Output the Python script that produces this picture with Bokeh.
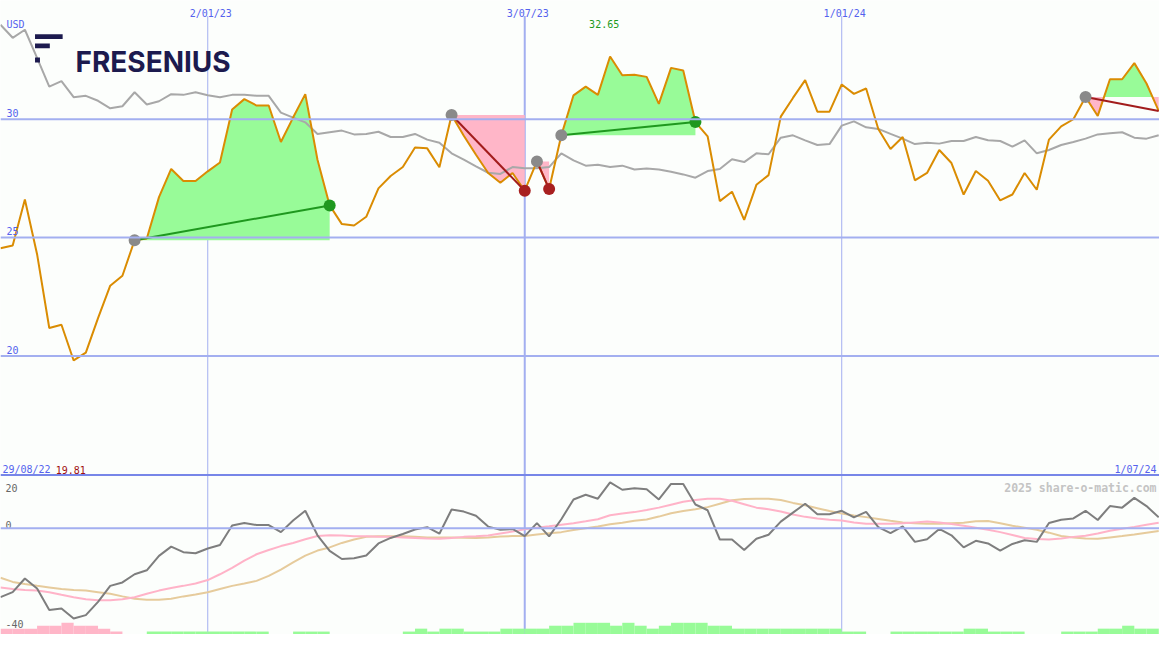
from bokeh.plotting import figure
from bokeh.models import Range1d, Span, BoxAnnotation
from bokeh.embed import file_html
from bokeh.resources import INLINE
from bokeh.core.properties import value

# ---------------- data (weekly, index 0 = first week shown) ----------------
DATE_LABELS = ["2/01/23", "3/07/23", "1/01/24"]
DATE_LABEL_IDX = [17, 43, 69]
START_LABEL = "29/08/22"
END_LABEL = "1/07/24"
PRICE_TICKS = [30, 25, 20]
OSC_TICKS = [20, 0, -40]

price = [24.55, 24.67, 26.61, 24.3, 21.18, 21.32, 19.81, 20.14, 21.6, 22.97,
         23.39, 24.89, 24.96, 26.71, 27.9, 27.39, 27.39, 27.8, 28.17, 30.41,
         30.85, 30.58, 30.58, 29.04, 30.07, 31.06, 28.29, 26.36, 25.57, 25.51,
         25.88, 27.08, 27.6, 27.98, 28.81, 28.77, 27.97, 30.18, 29.3, 28.5,
         27.73, 27.32, 27.73, 26.98, 28.22, 27.05, 29.32, 31.01, 31.38, 31.03,
         32.65, 31.86, 31.88, 31.79, 30.65, 32.17, 32.06, 29.88, 29.28, 26.54,
         26.94, 25.75, 27.23, 27.64, 30.11, 30.9, 31.65, 30.32, 30.32, 31.47,
         31.07, 31.3, 29.59, 28.74, 29.25, 27.42, 27.73, 28.7, 28.15, 26.82,
         27.81, 27.4, 26.57, 26.82, 27.73, 27.02, 29.14, 29.7, 30.0, 30.94,
         30.14, 31.69, 31.69, 32.37, 31.51, 30.35]

bench = [33.99, 33.44, 33.78, 32.59, 31.38, 31.61, 30.93, 30.99, 30.78, 30.46,
         30.55, 31.14, 30.62, 30.76, 31.06, 31.03, 31.14, 31.01, 30.93, 31.03,
         31.03, 30.99, 30.99, 30.28, 30.07, 29.87, 29.38, 29.45, 29.52, 29.36,
         29.38, 29.47, 29.25, 29.25, 29.38, 29.14, 29.01, 28.56, 28.29, 28.01,
         27.74, 27.69, 27.98, 27.93, 27.93, 27.98, 28.56, 28.26, 28.04, 28.08,
         27.98, 28.04, 27.88, 27.92, 27.88, 27.78, 27.67, 27.53, 27.81, 27.9,
         28.31, 28.19, 28.56, 28.52, 29.22, 29.32, 29.11, 28.91, 28.95, 29.73,
         29.91, 29.66, 29.59, 29.38, 29.18, 28.95, 29.01, 28.97, 29.08, 29.08,
         29.25, 29.11, 29.08, 28.84, 29.11, 28.56, 28.7, 28.91, 29.04, 29.18,
         29.36, 29.41, 29.45, 29.22, 29.18, 29.32]

osc_main = [-26.2, -24.3, -19.1, -22.9, -31.1, -30.5, -34.3, -33.0, -28.0, -21.9,
            -20.6, -17.5, -16.0, -10.5, -7.0, -9.1, -9.5, -7.7, -6.4, 1.0,
            2.0, 1.2, 1.2, -1.5, 2.9, 6.6, -2.7, -8.6, -11.7, -11.4,
            -10.4, -5.8, -3.7, -2.2, -0.5, 0.4, -2.1, 7.1, 6.3, 4.7,
            0.6, -0.6, -0.3, -3.0, 1.9, -3.1, 3.4, 10.9, 12.7, 11.2,
            17.4, 14.6, 15.2, 14.8, 10.9, 16.8, 16.8, 9.0, 6.8, -4.3,
            -4.3, -8.3, -4.0, -2.5, 2.5, 5.9, 9.3, 5.3, 5.3, 6.6,
            4.1, 6.2, 0.4, -1.9, 0.7, -5.2, -4.2, -0.3, -2.7, -7.3,
            -4.8, -5.8, -8.5, -6.0, -4.6, -5.2, 2.0, 3.2, 3.7, 6.6,
            3.1, 8.4, 7.8, 11.5, 8.4, 4.1]

osc_fast = [-22.5, -23.1, -23.5, -23.7, -24.3, -25.3, -26.2, -27.0, -27.4, -27.4,
            -27.0, -26.2, -24.9, -23.7, -22.7, -21.9, -21.0, -19.7, -17.5, -15.1,
            -12.3, -9.9, -8.3, -6.8, -5.6, -4.2, -3.0, -2.7, -2.8, -3.1,
            -3.1, -3.3, -3.3, -3.5, -3.7, -3.9, -4.0, -3.7, -3.3, -3.1,
            -2.8, -2.0, -1.3, -0.4, 0.2, 0.7, 1.3, 1.9, 2.6, 3.4,
            4.9, 5.6, 6.1, 6.9, 7.8, 8.9, 10.0, 10.7, 11.2, 11.2,
            10.4, 9.1, 7.8, 7.2, 6.3, 5.2, 4.3, 3.7, 3.2, 2.9,
            2.2, 1.7, 1.7, 1.7, 1.9, 2.2, 2.5, 2.2, 1.6, 0.9,
            0.2, -0.6, -1.5, -2.6, -3.7, -4.1, -4.3, -3.9, -3.3, -2.9,
            -2.0, -1.0, -0.2, 0.5, 1.3, 2.1]

osc_slow = [-18.8, -20.4, -21.2, -21.9, -22.5, -23.1, -23.5, -23.7, -24.3, -24.9,
            -25.9, -26.8, -27.2, -27.2, -26.8, -25.9, -25.2, -24.3, -23.1, -21.9,
            -21.0, -20.0, -18.1, -15.7, -13.0, -10.4, -8.5, -7.3, -5.6, -4.3,
            -3.3, -3.1, -3.1, -3.1, -3.3, -3.5, -3.5, -3.5, -3.6, -3.7,
            -3.5, -3.2, -3.0, -3.0, -2.4, -1.9, -1.5, -0.7, 0.0, 0.6,
            1.5, 2.1, 2.8, 3.3, 4.4, 5.7, 6.5, 7.2, 8.0, 9.3,
            10.6, 11.1, 11.2, 11.2, 10.7, 9.6, 8.7, 7.6, 6.5, 5.6,
            4.8, 4.2, 3.5, 2.8, 2.2, 1.9, 1.7, 1.7, 1.9, 2.1,
            2.6, 2.7, 1.9, 0.9, 0.2, -0.6, -1.7, -3.0, -3.5, -3.9,
            -4.0, -3.5, -3.0, -2.4, -1.7, -1.1]

hist = [-2, -2, -2, -3, -3, -4, -3, -3, -2, -1, 0, 0,
        1, 1, 1, 1, 1, 1, 1, 1, 1, 1,
        0, 0,
        1, 1, 1,
        0, 0, 0, 0, 0, 0,
        1, 2, 1, 2, 2, 1, 1, 1, 2, 2, 2, 2,
        3, 3, 4, 4, 4, 3, 4, 3, 2, 3, 4, 4, 4, 3, 3,
        2, 2, 2, 2, 2, 2, 2, 2, 2,
        1, 1, 0, 0,
        1, 1, 1, 1, 1, 1,
        2, 2, 1, 1, 1, 0, 0, 0, 1, 1, 1, 2, 2, 3, 2, 2, 2]

trade_entry = [11, 37, 44, 46, 89]
trade_exit = [27, 43, 45, 57, 95]
trade_open = [False, False, False, False, True]

# ---------------- layout constants ----------------
W, H = 1159, 634
PX_X = 12.36                      # reference px per week
X_END = 1175 / PX_X
PX_Y = 24.27                      # reference px per USD
Y_TOP = 35.016
Y_BOT = Y_TOP - 650 / PX_Y
OSC_PX = 2.7
OSC_TOP = 541 / OSC_PX
OSC_BOT = -(650 - 541) / OSC_PX
HIST_TOP = 650 / 3.0


def xd(px):
    return px / PX_X


def yd(px):
    return Y_TOP - px / PX_Y


def yo(px):
    return (541 - px) / OSC_PX


BG = "#fcfefc"
BLUE_TXT = "#5462ee"
GRID = "#a3aff0"
SEP = "#7786e8"
ORANGE = "#da8c02"
GRAY = "#a8a8a8"
GFILL = "#98fb98"
PFILL = "#ffb6c8"
GLINE = "#1f981f"
RLINE = "#a21c1c"
MONO = value("DejaVu Sans Mono")

p = figure(width=W, height=H, output_backend="svg", toolbar_location=None,
           x_axis_location=None, y_axis_location=None, min_border=0,
           x_range=Range1d(0, X_END), y_range=Range1d(Y_BOT, Y_TOP),
           background_fill_color=BG, border_fill_color=BG,
           outline_line_color=None)
p.grid.visible = False
p.extra_y_ranges = {"osc": Range1d(OSC_BOT, OSC_TOP),
                    "hist": Range1d(0, HIST_TOP)}

idx = list(range(len(price)))

# ---------------- grid ----------------
for t in PRICE_TICKS:
    p.add_layout(Span(location=t, dimension="width", line_color=GRID, line_width=2))
p.add_layout(Span(location=0, dimension="width", line_color=GRID, line_width=2,
                  y_range_name="osc"))
vw = [2 if d == "3/07/23" else 1 for d in DATE_LABELS]
p.segment(x0=DATE_LABEL_IDX, x1=DATE_LABEL_IDX, y0=[Y_BOT] * 3, y1=[yd(16)] * 3,
          line_color=GRID, line_width=vw)
p.add_layout(Span(location=yd(486.5), dimension="width", line_color=SEP, line_width=2))

# ---------------- histogram (bottom bars) ----------------
hx = [i for i, h in enumerate(hist) if h != 0]
p.quad(left=hx, right=[i + 1 for i in hx], bottom=0,
       top=[abs(hist[i]) for i in hx],
       fill_color=[GFILL if hist[i] > 0 else PFILL for i in hx],
       line_color=None, y_range_name="hist")

# ---------------- trade fills ----------------
for a, b in zip(trade_entry, trade_exit):
    E = price[a]
    xs, ys = [a], [price[a]]
    for i in range(a, b):
        p0, p1 = price[i], price[i + 1]
        if (p0 - E) * (p1 - E) < 0:
            t = (E - p0) / (p1 - p0)
            xs.append(i + t)
            ys.append(E)
        xs.append(i + 1)
        ys.append(p1)
    p.varea(x=xs, y1=[E] * len(xs), y2=[max(y, E) for y in ys], fill_color=GFILL)
    p.varea(x=xs, y1=[min(y, E) for y in ys], y2=[E] * len(xs), fill_color=PFILL)

# ---------------- lines ----------------
p.line(idx, bench, line_color=GRAY, line_width=2)
p.line(idx, price, line_color=ORANGE, line_width=2)

p.line(idx, osc_slow, line_color="#e6cb9c", line_width=2, y_range_name="osc")
p.line(idx, osc_fast, line_color="#ffb3c8", line_width=2, y_range_name="osc")
p.line(idx, osc_main, line_color="#7e7e7e", line_width=2, y_range_name="osc")

# ---------------- trades ----------------
for a, b, op in zip(trade_entry, trade_exit, trade_open):
    E = price[a]
    win = price[b] > E
    col = GLINE if win else RLINE
    p.line([a, b], [E, price[b]], line_color=col, line_width=2)
    if not op:
        p.scatter([b], [price[b]], size=12, fill_color=col if win else "#a82020",
                  line_color=None)
p.scatter(trade_entry, [price[a] for a in trade_entry], size=12,
          fill_color="#8a8a8a", line_color=None)

# ---------------- texts ----------------
p.text(x=[xd(6)], y=[yd(25)], text=["USD"], text_font=MONO, text_font_size="10px",
       text_color=BLUE_TXT, text_baseline="alphabetic")
p.text(x=[xd(6)] * 3, y=[t + 0.1 for t in PRICE_TICKS], text=[str(t) for t in PRICE_TICKS],
       text_font=MONO, text_font_size="10px", text_color=BLUE_TXT,
       text_baseline="bottom")
p.text(x=[i + xd(3) for i in DATE_LABEL_IDX], y=[yd(13)] * 3, text=DATE_LABELS,
       text_font=MONO, text_font_size="10px", text_color=BLUE_TXT,
       text_align="center", text_baseline="alphabetic")
imax = price.index(max(price))
p.text(x=[imax - xd(6)], y=[yd(24)], text=[f"{max(price):.2f}"], text_font=MONO,
       text_font_size="10px", text_color="#1d9a1d", text_align="center",
       text_baseline="alphabetic")
p.text(x=[xd(2)], y=[yd(481)], text=[START_LABEL], text_font=MONO,
       text_font_size="10px", text_color=BLUE_TXT, text_baseline="alphabetic")
p.text(x=[xd(56)], y=[yd(481)], text=[f"{min(price):.2f}"], text_font=MONO,
       text_font_size="10px", text_color="#a01010", text_baseline="alphabetic")
p.text(x=[X_END - xd(3)], y=[yd(481)], text=[END_LABEL], text_font=MONO,
       text_font_size="10px", text_color=BLUE_TXT, text_align="right",
       text_baseline="alphabetic")
p.text(x=[X_END - xd(3)], y=[yo(500)], text=["2025 share-o-matic.com"],
       text_font=MONO, text_font_size="11.5px", text_font_style="bold",
       text_color="#c4c4c4", text_align="right", text_baseline="alphabetic",
       y_range_name="osc")
p.text(x=[xd(5)] * 3, y=[yo(500), yo(538), yo(639)], text=[str(t) for t in OSC_TICKS],
       text_font=MONO, text_font_size="10px", text_color="#666666",
       text_baseline="alphabetic", y_range_name="osc")

# ---------------- logo ----------------
NAVY = "#1c1a4e"
for (l, r, t, b) in [(35, 63, 34.5, 39.5), (35, 50, 44, 49), (35, 40, 58.5, 63.5)]:
    p.add_layout(BoxAnnotation(left=xd(l), right=xd(r), top=yd(t), bottom=yd(b),
                               fill_color=NAVY, fill_alpha=1, line_color=None))
p.text(x=[xd(76)], y=[yd(63.5)], text=["FRESENIUS"], text_font=value("Inter"),
       text_font_size="28px", text_font_style="bold", text_color=NAVY,
       text_baseline="alphabetic")

open("out.html", "w").write(file_html(p, INLINE))
